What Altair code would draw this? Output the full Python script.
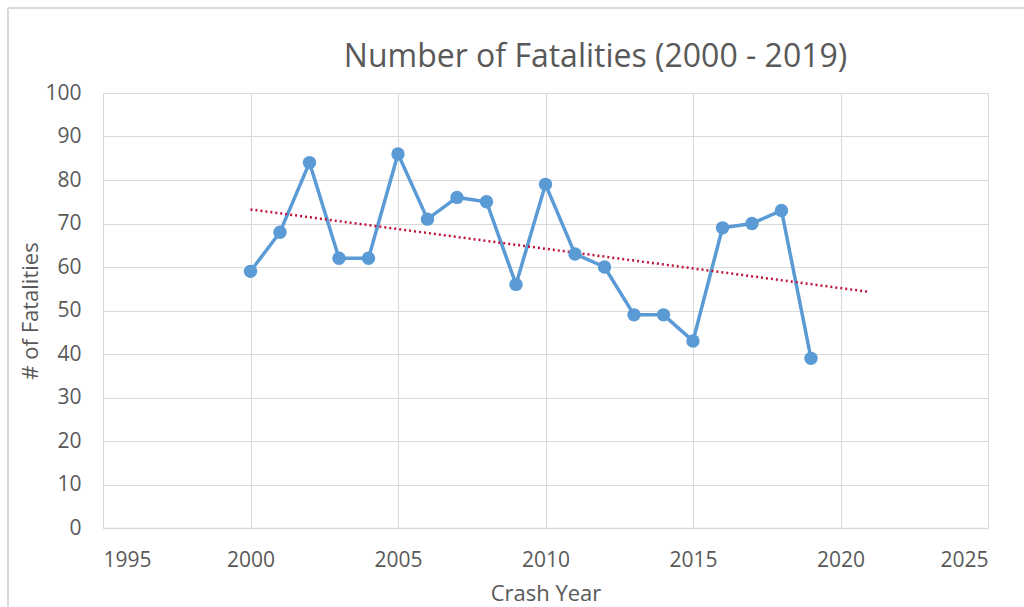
import altair as alt
import pandas as pd

# Fatalities per crash year
years = [2000, 2001, 2002, 2003, 2004, 2005, 2006, 2007, 2008, 2009,
         2010, 2011, 2012, 2013, 2014, 2015, 2016, 2017, 2018, 2019]
fatalities = [59, 68, 84, 62, 62, 86, 71, 76, 75, 56,
              79, 63, 60, 49, 49, 43, 69, 70, 73, 39]

x_ticks = [1995, 2000, 2005, 2010, 2015, 2020, 2025]
y_ticks = [0, 10, 20, 30, 40, 50, 60, 70, 80, 90, 100]

df = pd.DataFrame({"year": years, "fatalities": fatalities})

FONT = "Open Sans"
GRID = "#d9d9d9"
TEXT = "#595959"
BLUE = "#5B9BD5"
RED = "#C0143C"

x_enc = alt.X(
    "year:Q",
    title="Crash Year",
    scale=alt.Scale(domain=[1995, 2025], nice=False, zero=False),
    axis=alt.Axis(values=x_ticks, format="d", grid=True, gridColor=GRID,
                  domainColor=GRID, domainWidth=1.5, ticks=False,
                  labelPadding=21, titlePadding=13),
)
y_enc = alt.Y(
    "fatalities:Q",
    title="# of Fatalities",
    scale=alt.Scale(domain=[0, 100], nice=False),
    axis=alt.Axis(values=y_ticks, grid=True, gridColor=GRID, domain=False,
                  ticks=False, labelPadding=22, titlePadding=2),
)

base = alt.Chart(df)

line = base.mark_line(color=BLUE, strokeWidth=3.5).encode(x=x_enc, y=y_enc)
points = base.mark_circle(color=BLUE, size=180, opacity=1).encode(x=x_enc, y=y_enc)

# Linear trend of the yearly counts, extended one year forward
trend = base.transform_regression(
    "year", "fatalities", method="linear", extent=[2000, 2021]
).mark_line(color=RED, strokeWidth=2.5, strokeDash=[2, 3]).encode(
    x="year:Q", y="fatalities:Q"
)

# Chart-area frame (top and left edges)
frame_top = alt.Chart(df).mark_rule(color=GRID, strokeWidth=1.5).encode(
    x=alt.value(-95), x2=alt.value(1000), y=alt.value(-85)
)
frame_left = alt.Chart(df).mark_rule(color=GRID, strokeWidth=1.5).encode(
    x=alt.value(-95), y=alt.value(-85), y2=alt.value(600)
)

chart = alt.layer(frame_top, frame_left, line, trend, points).properties(
    width=885,
    height=435,
    background="white",
    autosize=alt.AutoSizeParams(type="none"),
    padding={"left": 103, "top": 93, "right": 36, "bottom": 79},
    title=alt.TitleParams(
        "Number of Fatalities (2000 - 2019)",
        font=FONT, fontSize=32, fontWeight="normal", color=TEXT,
        anchor="middle", dx=50, offset=0, dy=67, frame="group",
    ),
).configure_axis(
    labelFont=FONT, labelFontSize=21, labelColor=TEXT,
    titleFont=FONT, titleFontSize=22, titleColor=TEXT, titleFontWeight="normal",
).configure_view(stroke=None)

chart.save("out.html", embed_options={"renderer": "svg", "actions": False})
